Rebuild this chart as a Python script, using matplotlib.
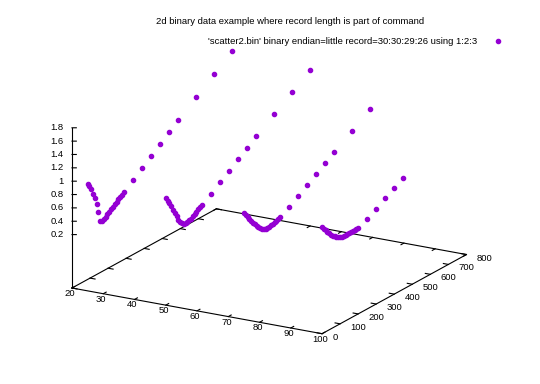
import numpy as np
import matplotlib
matplotlib.use("Agg")
import matplotlib.pyplot as plt
import matplotlib.transforms as mtransforms
from mpl_toolkits.mplot3d import proj3d

plt.rcParams["font.family"] = ["Liberation Sans", "DejaVu Sans"]

W, H = 540, 384
PURPLE = "#9400d3"
FS = 6.8

# scatter2.bin, record=30:30:29:26, using 1:2:3
rec_x = [25, 50, 75, 100]
y_rec = [0, 10, 20, 30, 40, 50, 60, 70, 80, 90, 100, 110, 120, 130, 140, 150,
         160, 170, 180, 190, 200, 250, 300, 350, 400, 450, 500, 600, 700, 800]
rec1_z = [1.00, 0.95, 0.89, 0.81, 0.73, 0.63, 0.49, 0.34, 0.33, 0.34, 0.36,
          0.39, 0.41, 0.43, 0.45, 0.48, 0.50, 0.52, 0.54, 0.56, 0.58,
          0.69, 0.795, 0.90, 1.01, 1.11, 1.22, 1.41, 1.61, 1.80]
rec2_z = [1.00, 0.95, 0.90, 0.84, 0.77, 0.705, 0.64, 0.575, 0.52, 0.49, 0.47,
          0.465, 0.47, 0.48, 0.49, 0.51, 0.53, 0.55, 0.57, 0.585, 0.60,
          0.70, 0.80, 0.89, 1.00, 1.09, 1.19, 1.37, 1.55, 1.74]
rec3_z = [1.00, 0.955, 0.91, 0.865, 0.82, 0.775, 0.735, 0.695, 0.66, 0.63, 0.605,
          0.59, 0.58, 0.575, 0.58, 0.585, 0.59, 0.60, 0.61, 0.62, 0.635,
          0.71, 0.81, 0.90, 0.99, 1.08, 1.17, 1.33, 1.52]
rec4_z = [1.00, 0.96, 0.92, 0.88, 0.845, 0.81, 0.78, 0.755, 0.73, 0.71, 0.70,
          0.69, 0.685, 0.68, 0.68, 0.68, 0.68, 0.68, 0.685, 0.69, 0.69,
          0.75, 0.83, 0.91, 0.99, 1.07]
rec_z = [rec1_z, rec2_z, rec3_z, rec4_z]

x_ticks = [20, 30, 40, 50, 60, 70, 80, 90, 100]
y_ticks = [0, 100, 200, 300, 400, 500, 600, 700, 800]
z_ticks = [0.2, 0.4, 0.6, 0.8, 1.0, 1.2, 1.4, 1.6, 1.8]
z_labels = ["0.2", "0.4", "0.6", "0.8", "1", "1.2", "1.4", "1.6", "1.8"]

title = "2d binary data example where record length is part of command"
key = "'scatter2.bin' binary endian=little record=30:30:29:26 using 1:2:3"

XMIN, XMAX, YMIN, YMAX, ZMIN, ZMAX = 20, 100, 0, 800, 0.2, 1.8
ZBASE = ZMIN - 0.5 * (ZMAX - ZMIN)   # gnuplot ticslevel 0.5

fig = plt.figure(figsize=(W / 100, H / 100), dpi=100)
pos0 = [-0.3, -0.3, 1.6, 1.6]
ax = fig.add_axes(pos0, projection="3d", proj_type="ortho")
ax.set_axis_off()
ax.view_init(elev=18.46, azim=-60)
ax.set_xlim(XMIN, XMAX); ax.set_ylim(YMIN, YMAX); ax.set_zlim(ZBASE, ZMAX)
aspect = (1, 1, 0.585)
ax.set_box_aspect(aspect)


def proj2d(x, y, z):
    xs, ys, _ = proj3d.proj_transform(x, y, z, ax.M)
    return xs, ys


def to_px(x, y, z):
    dx, dy = ax.transData.transform(proj2d(x, y, z))
    return np.array([dx, H - dy])


# fit the base plane onto the reference frame: corner (20,0) and (100,0)
tA, tB = np.array([72.0, 288.0]), np.array([322.0, 334.0])
zoom = 1.0
for _ in range(3):
    fig.canvas.draw()
    a, b = to_px(XMIN, YMIN, ZBASE), to_px(XMAX, YMIN, ZBASE)
    zoom *= np.hypot(*(tB - tA)) / np.hypot(*(b - a))
    ax.set_box_aspect(aspect, zoom=zoom)
    fig.canvas.draw()
    a = to_px(XMIN, YMIN, ZBASE)
    p = ax.get_position(original=True)
    ax.set_position([p.x0 + (tA[0] - a[0]) / W, p.y0 - (tA[1] - a[1]) / H, pos0[2], pos0[3]])
fig.canvas.draw()

kw = dict(color="black", lw=0.8, clip_on=False)
# base plane frame and z axis
ax.plot([XMIN, XMAX, XMAX, XMIN, XMIN], [YMIN, YMIN, YMAX, YMAX, YMIN], [ZBASE] * 5, **kw)
ax.plot([XMIN, XMIN], [YMIN, YMIN], [ZBASE, ZMAX], **kw)

ty = 0.02 * (YMAX - YMIN)
tx = 0.02 * (XMAX - XMIN)
off = lambda dx, dy: mtransforms.offset_copy(ax.transData, fig=fig, x=dx, y=dy, units="dots")


def label(x, y, z, s, dx, dy, **tkw):
    xs, ys = proj2d(x, y, z)
    ax.text2D(xs, ys, s, fontsize=FS, transform=off(dx, dy), **tkw)


for x in x_ticks:
    ax.plot([x, x], [YMIN, YMIN + ty], [ZBASE, ZBASE], **kw)
    ax.plot([x, x], [YMAX, YMAX - ty], [ZBASE, ZBASE], **kw)
    label(x, YMIN, ZBASE, str(x), -2, -5.5, ha="center", va="center")
for y in y_ticks:
    ax.plot([XMAX, XMAX - tx], [y, y], [ZBASE, ZBASE], **kw)
    ax.plot([XMIN, XMIN + tx], [y, y], [ZBASE, ZBASE], **kw)
    label(XMAX, y, ZBASE, str(y), 10.5, -3.5, ha="left", va="center")
for z, lab in zip(z_ticks, z_labels):
    ax.plot([XMIN, XMIN + 1.03], [YMIN, YMIN + 6.0], [z, z], **kw)
    label(XMIN, YMIN, z, lab, -8.5, 0, ha="right", va="center")

pts = None
for x, z in zip(rec_x, rec_z):
    ys = y_rec[:len(z)]
    (ln,) = ax.plot([x] * len(z), ys, z, ls="none", marker="o", ms=3.0,
                    color=PURPLE, mec=PURPLE, clip_on=False)
    pts = pts or ln

fig.text(290 / W, 1 - 22 / H, title, ha="center", va="center", fontsize=FS)
fig.legend([pts], [key], loc="center right", bbox_to_anchor=(502.7 / W, 1 - 42 / H),
           markerfirst=False, frameon=False, fontsize=FS, handlelength=1.0,
           handletextpad=1.73, borderpad=0, borderaxespad=0, numpoints=1)

fig.savefig("out.png", dpi=100)
